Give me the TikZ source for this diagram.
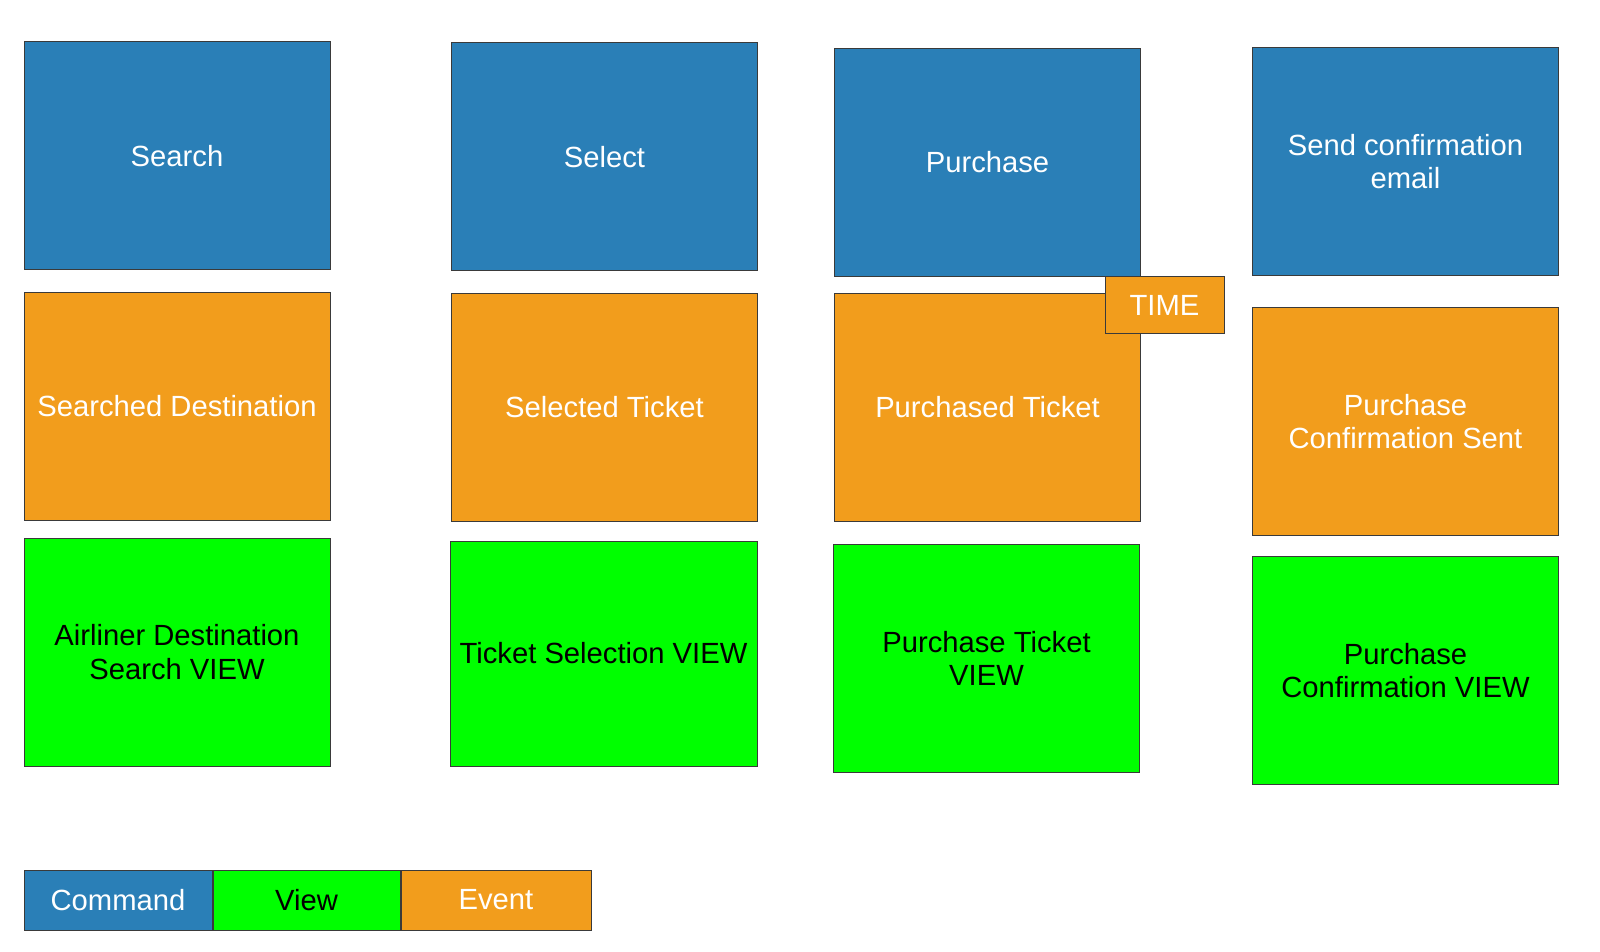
\documentclass[tikz,border=0pt]{standalone}
\usepackage{fontspec}
\setmainfont{Liberation Sans}
\usetikzlibrary{positioning}

\definecolor{cmdblue}{HTML}{2A7FB7}
\definecolor{evtorange}{HTML}{F29D1C}
\definecolor{viewgreen}{HTML}{00FF00}
\definecolor{edgegray}{HTML}{3A3A3A}

\tikzset{
  card/.style={draw=edgegray, line width=0.5pt, rectangle, align=center,
    minimum width=153pt, minimum height=114pt, inner sep=2pt,
    font=\fontsize{14.6}{16.8}\selectfont},
  cmd/.style={card, fill=cmdblue, text=white},
  evt/.style={card, fill=evtorange, text=white},
  vw/.style={card, fill=viewgreen, text=black},
  legendbox/.style={draw=edgegray, line width=0.5pt, rectangle,
    minimum height=30pt, inner sep=0pt,
    font=\fontsize{14.6}{16.8}\selectfont}
}

\begin{document}
\begin{tikzpicture}[x=0.5pt,y=-0.5pt]
\useasboundingbox (0,0) rectangle (1600,952);
% commands
\node (search) [cmd] at (177,156) {Search};
\node (select) [cmd] at (604.5,157) {Select};
\node (purchase) [cmd] at (987.5,162.5) {Purchase};
\node (sendmail) [cmd] at (1405.5,161.5) {Send confirmation\\email};
% events
\node (searched) [evt] at (177,406) {Searched Destination};
\node (selected) [evt] at (604.5,407.5) {Selected Ticket};
\node (purchased) [evt] at (987.5,407) {Purchased Ticket};
\node (confsent) [evt] at (1405.5,421.5) {Purchase\\Confirmation Sent};
% views
\node (searchview) [vw] at (177,652) {Airliner Destination\\Search VIEW};
\node (selectview) [vw, minimum width=153.5pt, minimum height=112.5pt] at (603.5,653.5) {Ticket Selection VIEW};
\node (purchaseview) [vw] at (986.5,658.5) {Purchase Ticket\\VIEW};
\node (confview) [vw] at (1405.5,670.5) {Purchase\\Confirmation VIEW};
% time marker
\node (time) [evt, minimum width=59.5pt, minimum height=28pt] at (1164.5,305) {TIME};
% legend
\node (lgcmd) [legendbox, fill=cmdblue, text=white, minimum width=94pt] at (118,900) {Command};
\node (lgview) [legendbox, fill=viewgreen, text=black, minimum width=93.5pt, right=0pt of lgcmd] {View};
\node (lgevent) [legendbox, fill=evtorange, text=white, minimum width=95pt, right=0pt of lgview] {Event};
\end{tikzpicture}
\end{document}
